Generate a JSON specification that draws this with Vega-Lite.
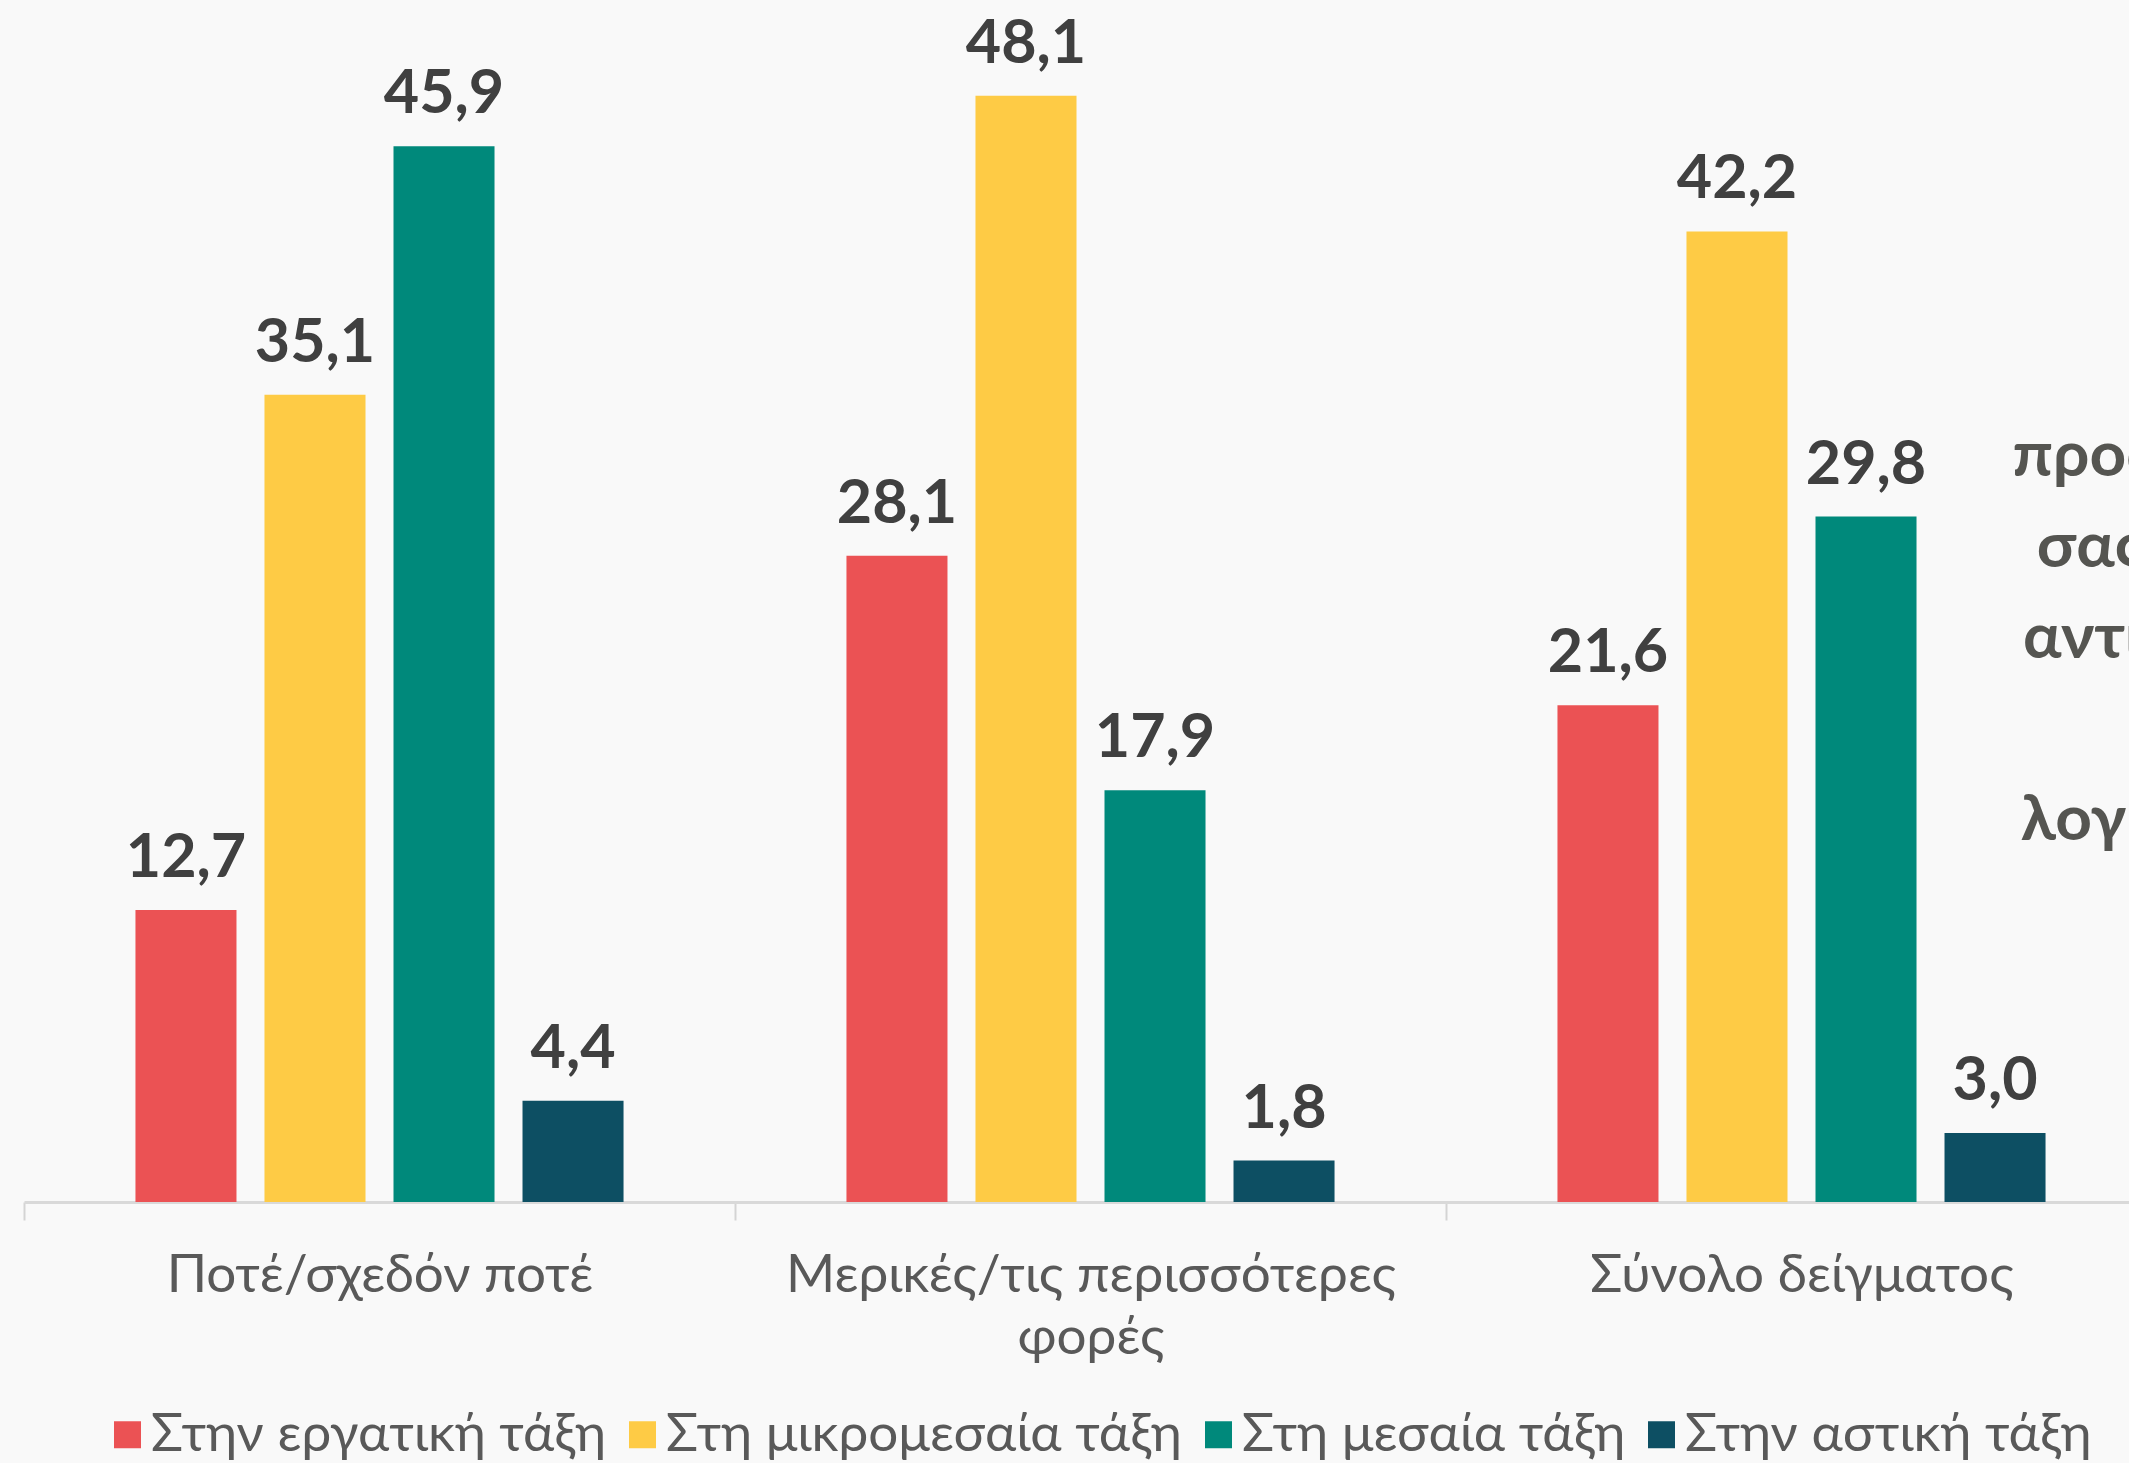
{
  "$schema": "https://vega.github.io/schema/vega-lite/v6.json",
  "width": 2105,
  "height": 1150,
  "autosize": {"type": "none"},
  "padding": {"left": 24, "top": 52, "right": 0, "bottom": 261},
  "background": "#f9f9f9",
  "config": {
    "view": {"stroke": null},
    "locale": {"number": {"decimal": ",", "thousands": ".", "grouping": [3], "currency": ["", " €"]}}
  },
  "data": {
    "values": [
      {"category": "Ποτέ/σχεδόν ποτέ", "group": "Στην εργατική τάξη", "value": 12.7},
      {"category": "Ποτέ/σχεδόν ποτέ", "group": "Στη μικρομεσαία τάξη", "value": 35.1},
      {"category": "Ποτέ/σχεδόν ποτέ", "group": "Στη μεσαία τάξη", "value": 45.9},
      {"category": "Ποτέ/σχεδόν ποτέ", "group": "Στην αστική τάξη", "value": 4.4},
      {"category": "Μερικές/τις περισσότερες φορές", "group": "Στην εργατική τάξη", "value": 28.1},
      {"category": "Μερικές/τις περισσότερες φορές", "group": "Στη μικρομεσαία τάξη", "value": 48.1},
      {"category": "Μερικές/τις περισσότερες φορές", "group": "Στη μεσαία τάξη", "value": 17.9},
      {"category": "Μερικές/τις περισσότερες φορές", "group": "Στην αστική τάξη", "value": 1.8},
      {"category": "Σύνολο δείγματος", "group": "Στην εργατική τάξη", "value": 21.6},
      {"category": "Σύνολο δείγματος", "group": "Στη μικρομεσαία τάξη", "value": 42.2},
      {"category": "Σύνολο δείγματος", "group": "Στη μεσαία τάξη", "value": 29.8},
      {"category": "Σύνολο δείγματος", "group": "Στην αστική τάξη", "value": 3.0}
    ]
  },
  "encoding": {
    "x": {
      "field": "category",
      "type": "nominal",
      "sort": ["Ποτέ/σχεδόν ποτέ", "Μερικές/τις περισσότερες φορές", "Σύνολο δείγματος"],
      "scale": {"range": [0, 2133], "paddingInner": 0, "paddingOuter": 0},
      "axis": {
        "title": null,
        "tickBand": "extent",
        "domainColor": "#d9d9d9",
        "domainWidth": 3,
        "tickColor": "#d4d4d4",
        "tickWidth": 2,
        "tickSize": 18,
        "labelAngle": 0,
        "labelFont": "Lato",
        "labelFontSize": 53,
        "labelColor": "#595959",
        "labelPadding": 29,
        "labelLineHeight": 62,
        "labelLimit": 1000,
        "labelExpr": "datum.value == 'Μερικές/τις περισσότερες φορές' ? ['Μερικές/τις περισσότερες', 'φορές'] : datum.label",
        "grid": false
      }
    },
    "xOffset": {
      "field": "group",
      "type": "nominal",
      "sort": ["Στην εργατική τάξη", "Στη μικρομεσαία τάξη", "Στη μεσαία τάξη", "Στην αστική τάξη"],
      "scale": {"paddingInner": 0.217, "paddingOuter": 0.864}
    },
    "y": {
      "field": "value",
      "type": "quantitative",
      "scale": {"domain": [0, 50], "nice": false},
      "axis": {
        "orient": "right",
        "domain": false,
        "ticks": false,
        "labels": false,
        "grid": false,
        "title": ["προσδιορίζετε τη", "σας κοινωνικής", "αντικειμενικά τη", "\u200b", "λογική σας θέση"],
        "titleAngle": 0,
        "titleAlign": "center",
        "titleBaseline": "alphabetic",
        "titleX": 131,
        "titleY": 423,
        "titleFont": "Lato",
        "titleFontSize": 64,
        "titleFontWeight": "bold",
        "titleColor": "#555551",
        "titleLineHeight": 91
      }
    }
  },
  "layer": [
    {
      "mark": {"type": "bar"},
      "encoding": {
        "color": {
          "field": "group",
          "type": "nominal",
          "sort": ["Στην εργατική τάξη", "Στη μικρομεσαία τάξη", "Στη μεσαία τάξη", "Στην αστική τάξη"],
          "scale": {
            "domain": ["Στην εργατική τάξη", "Στη μικρομεσαία τάξη", "Στη μεσαία τάξη", "Στην αστική τάξη"],
            "range": ["#eb5254", "#fecb45", "#00897b", "#0d4f63"]
          },
          "legend": {
            "orient": "none",
            "legendX": 77,
            "legendY": 1356,
            "direction": "horizontal",
            "title": null,
            "symbolType": "square",
            "symbolSize": 729,
            "symbolStrokeWidth": 0,
            "labelFont": "Lato",
            "labelFontSize": 53,
            "labelColor": "#595959",
            "labelOffset": -3,
            "labelLimit": 1000,
            "columnPadding": 9,
            "padding": 0
          }
        }
      }
    },
    {
      "mark": {"type": "text", "baseline": "alphabetic", "dy": -33, "font": "Lato", "fontSize": 61, "fontWeight": "bold", "color": "#404040"},
      "encoding": {
        "text": {"field": "value", "type": "quantitative", "format": ".1f"}
      }
    }
  ]
}
